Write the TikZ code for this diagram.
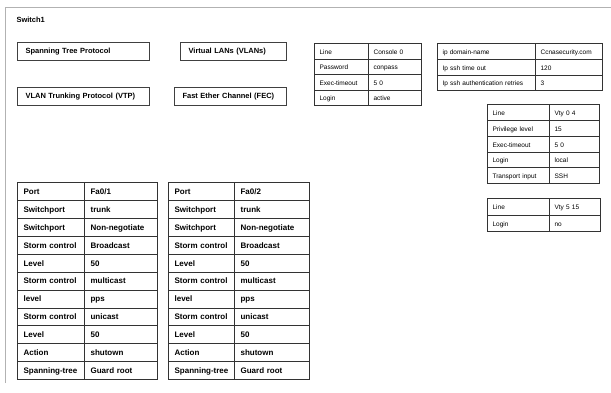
\documentclass[tikz,border=0pt]{standalone}
\usepackage{fontspec}
\setmainfont{Liberation Sans}
\usetikzlibrary{matrix, positioning}

\begin{document}
\begin{tikzpicture}[x=1pt, y=-1pt,
    topic/.style={draw=black!75, line width=1.1pt, anchor=north west,
                  minimum height=18pt, text width=#1, inner xsep=8pt,
                  align=left, font=\fontsize{7.5}{9}\selectfont\bfseries},
    grid/.style={matrix of nodes, anchor=north west, inner sep=0pt,
                 row sep=-0.8pt, column sep=-0.8pt,
                 nodes={draw=black!80, line width=0.8pt, align=left,
                        anchor=center, inner ysep=0pt,
                        text height=1.5ex, text depth=0.4ex}},
    small/.style={grid, nodes={inner xsep=5pt,
                  font=\fontsize{6.5}{7}\selectfont}},
    port/.style={grid, nodes={inner xsep=6pt, minimum height=17.9pt,
                 font=\fontsize{8}{9}\selectfont\bfseries}},
    colw/.style 2 args={column #1/.style={nodes={text width=#2}}}
  ]
  \useasboundingbox (0,0) rectangle (611,392);

  % frame
  \draw[black!30, line width=0.9pt] (5,383) -- (5,7) -- (611,7);

  \node[anchor=west, font=\fontsize{7.5}{9}\selectfont\bfseries] (title) at (13,20) {Switch1};

  % topics
  \node[topic=116pt] (stp)   at (17,42) {Spanning Tree Protocol};
  \node[topic=90pt]  (vlans) at (180,42) {Virtual LANs (VLANs)};
  \node[topic=116pt] (vtp)   at (17,87) {VLAN Trunking Protocol (VTP)};
  \node[topic=96pt]  (fec)   at (174,87) {Fast Ether Channel (FEC)};

  % line console
  \matrix[small, colw={1}{44pt}, colw={2}{43pt},
          nodes={minimum height=15.5pt}] (console) at (314,43) {
    Line         & Console 0 \\
    Password     & conpass \\
    Exec-timeout & 5 0 \\
    Login        & active \\
  };

  % ssh
  \matrix[small, colw={1}{88pt}, colw={2}{57pt},
          nodes={minimum height=15.7pt}] (domain) at (437,43) {
    ip domain-name                & Ccnasecurity.com \\
    Ip ssh time out               & 120 \\
    Ip ssh authentication retries & 3 \\
  };

  % line vty
  \matrix[small, colw={1}{52pt}, colw={2}{40pt},
          nodes={minimum height=15.8pt}] (vtyA) at (487,104) {
    Line            & Vty 0 4 \\
    Privilege level & 15 \\
    Exec-timeout    & 5 0 \\
    Login           & local \\
    Transport input & SSH \\
  };
  \matrix[small, colw={1}{52pt}, colw={2}{41pt},
          nodes={minimum height=16.5pt}] (vtyB) at (487,198) {
    Line  & Vty 5 15 \\
    Login & no \\
  };

  % ports
  \matrix[port, colw={1}{55pt}, colw={2}{61pt}] (portA) at (17,182) {
    Port          & Fa0/1 \\
    Switchport    & trunk \\
    Switchport    & Non-negotiate \\
    Storm control & Broadcast \\
    Level         & 50 \\
    Storm control & multicast \\
    level         & pps \\
    Storm control & unicast \\
    Level         & 50 \\
    Action        & shutown \\
    Spanning-tree & Guard root \\
  };
  \matrix[port, colw={1}{54pt}, colw={2}{63pt}] (portB) at (168,182) {
    Port          & Fa0/2 \\
    Switchport    & trunk \\
    Switchport    & Non-negotiate \\
    Storm control & Broadcast \\
    Level         & 50 \\
    Storm control & multicast \\
    level         & pps \\
    Storm control & unicast \\
    Level         & 50 \\
    Action        & shutown \\
    Spanning-tree & Guard root \\
  };
\end{tikzpicture}
\end{document}
